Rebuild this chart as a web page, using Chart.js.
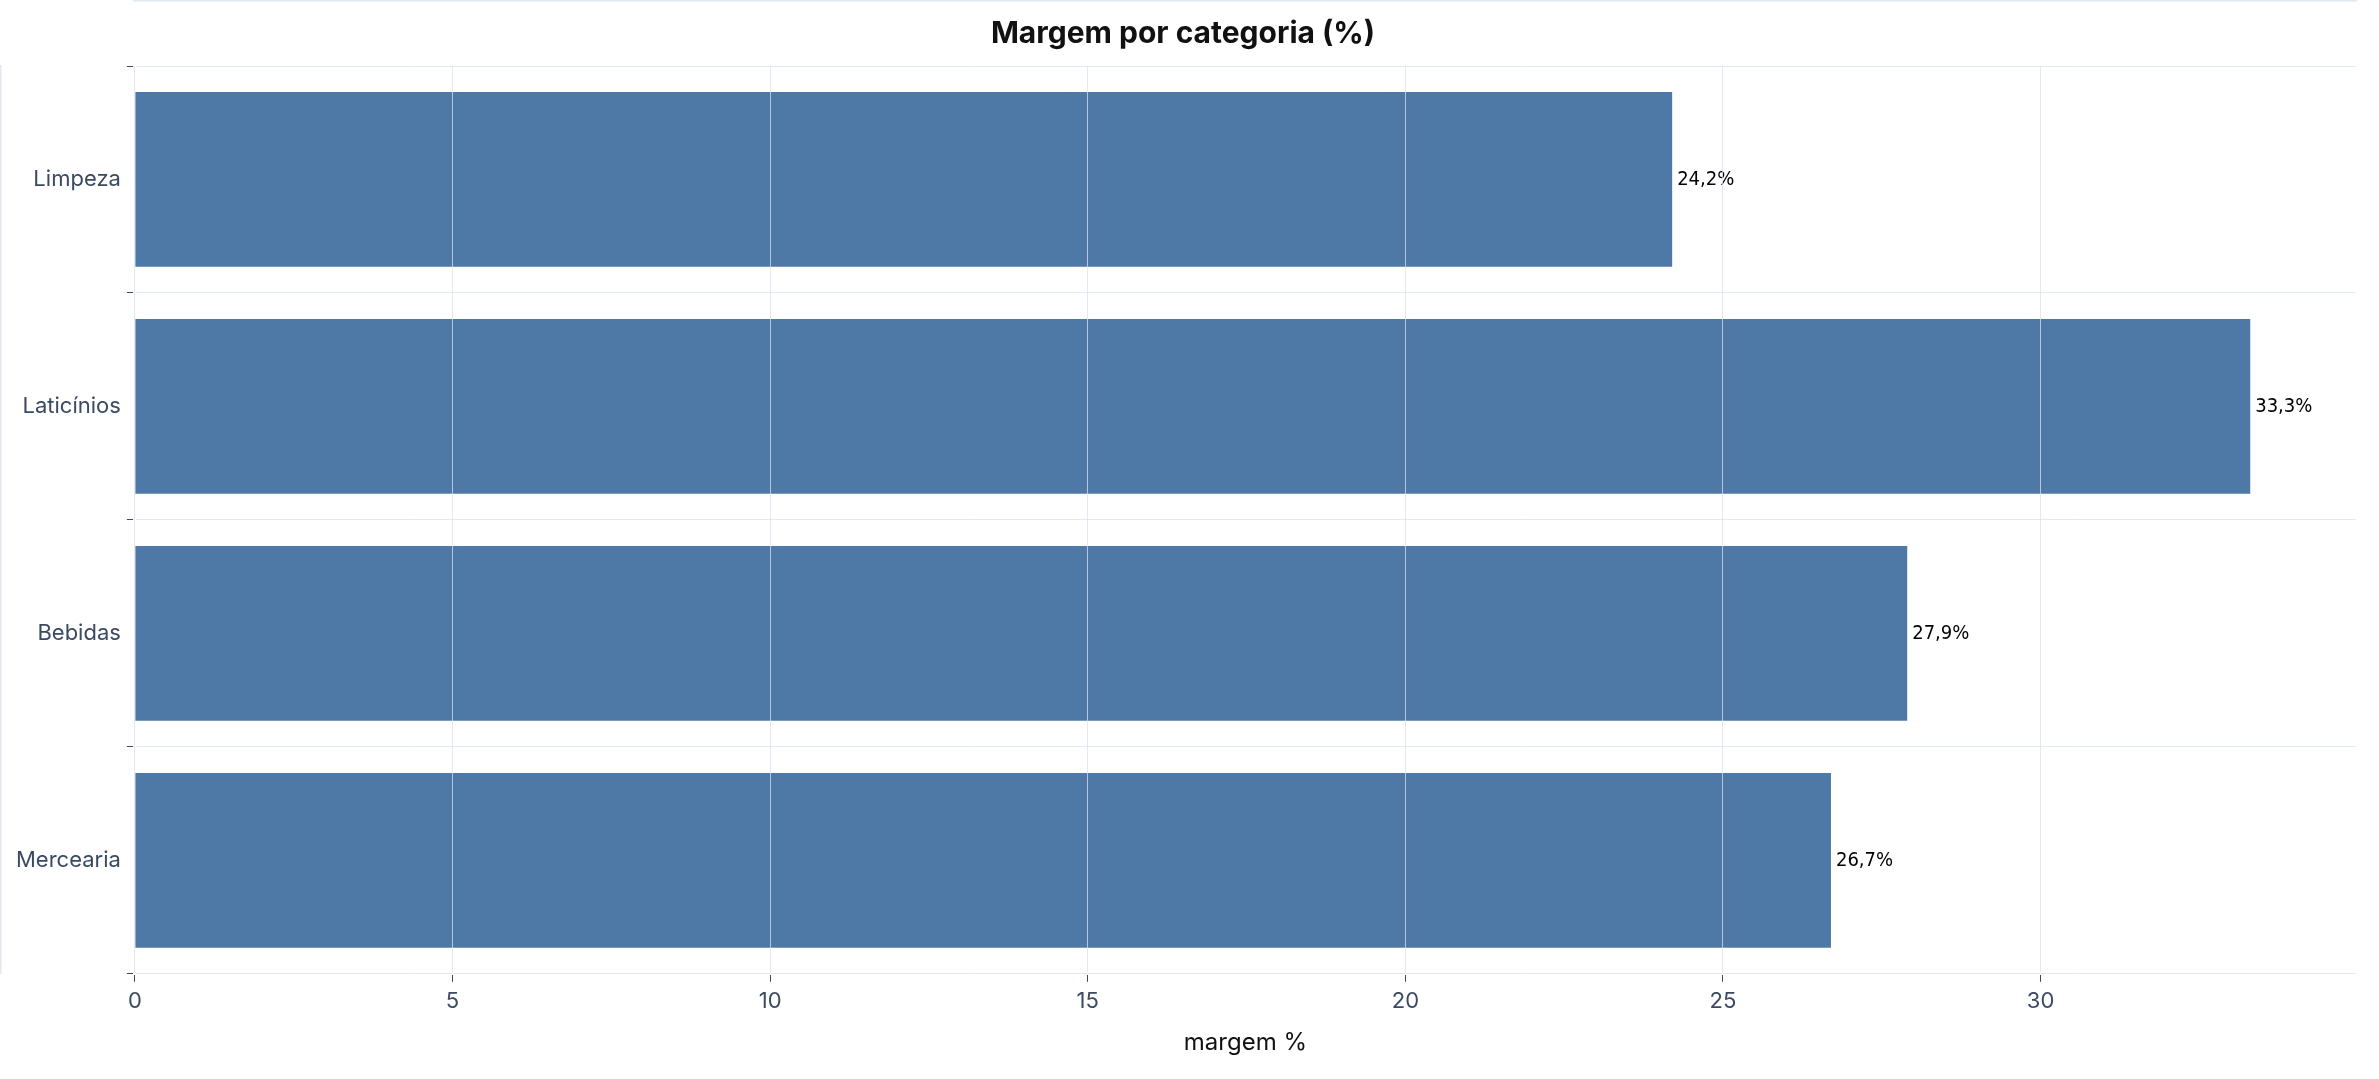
<!DOCTYPE html>
<html>
<head>
<meta charset="utf-8">
<script src="https://cdn.jsdelivr.net/npm/chart.js@4.4.1/dist/chart.umd.min.js"></script>
<style>
  html, body { margin: 0; padding: 0; background: #ffffff; }
  #wrap { width: 2379px; height: 1079px; }
</style>
</head>
<body>
<div id="wrap"><canvas id="chart" width="2379" height="1079"></canvas></div>
<script>
const categories = ['Limpeza', 'Laticínios', 'Bebidas', 'Mercearia'];
const margins = [24.2, 33.3, 27.9, 26.7];
const xTicks = [0, 5, 10, 15, 20, 25, 30];

const fmt = v => v.toFixed(1).replace('.', ',') + '%';

// value labels at the end of each bar
const barLabels = {
    id: 'barLabels',
    afterDatasetsDraw(chart) {
        const ctx = chart.ctx;
        const meta = chart.getDatasetMeta(0);
        ctx.save();
        ctx.font = '20px "DejaVu Sans Condensed", "DejaVu Sans", sans-serif';
        ctx.fillStyle = '#000000';
        ctx.textBaseline = 'middle';
        meta.data.forEach((bar, i) => {
            ctx.fillText(fmt(margins[i]), bar.x + 5, bar.y);
        });
        ctx.restore();
    }
};

new Chart(document.getElementById('chart'), {
    type: 'bar',
    data: {
        labels: categories,
        datasets: [{
            data: margins,
            backgroundColor: '#4e79a7',
            borderWidth: 0,
            barPercentage: 0.77,
            categoryPercentage: 1
        }]
    },
    options: {
        indexAxis: 'y',
        responsive: false,
        animation: false,
        devicePixelRatio: 1,
        layout: { padding: { left: 10, right: 23, top: 0, bottom: 18 } },
        plugins: {
            legend: { display: false },
            tooltip: { enabled: false },
            title: {
                display: true,
                text: 'Margem por categoria (%)',
                color: '#111111',
                font: { family: 'Inter, sans-serif', size: 30, weight: 'bold' },
                padding: { top: 16, bottom: 14 }
            }
        },
        scales: {
            x: {
                min: 0,
                max: 34.965,
                afterBuildTicks: axis => { axis.ticks = xTicks.map(v => ({ value: v })); },
                ticks: {
                    color: '#3b4a63',
                    font: { family: 'Inter, sans-serif', size: 22 },
                    padding: 6
                },
                grid: {
                    color: 'rgba(215,225,240,0.75)',
                    tickColor: '#3b4a63',
                    tickLength: 8,
                    z: 1
                },
                border: { color: '#e2e8f0', width: 3 },
                title: {
                    display: true,
                    text: 'margem %',
                    color: '#111111',
                    font: { family: 'Inter, sans-serif', size: 24 },
                    padding: { top: 8 }
                }
            },
            y: {
                ticks: {
                    color: '#3b4a63',
                    font: { family: 'Inter, sans-serif', size: 22 },
                    padding: 6
                },
                grid: {
                    color: 'rgba(215,225,240,0.75)',
                    tickColor: '#3b4a63',
                    tickLength: 8,
                    z: 1
                },
                border: { color: '#e2e8f0', width: 3 }
            }
        }
    },
    plugins: [barLabels]
});
</script>
</body>
</html>
